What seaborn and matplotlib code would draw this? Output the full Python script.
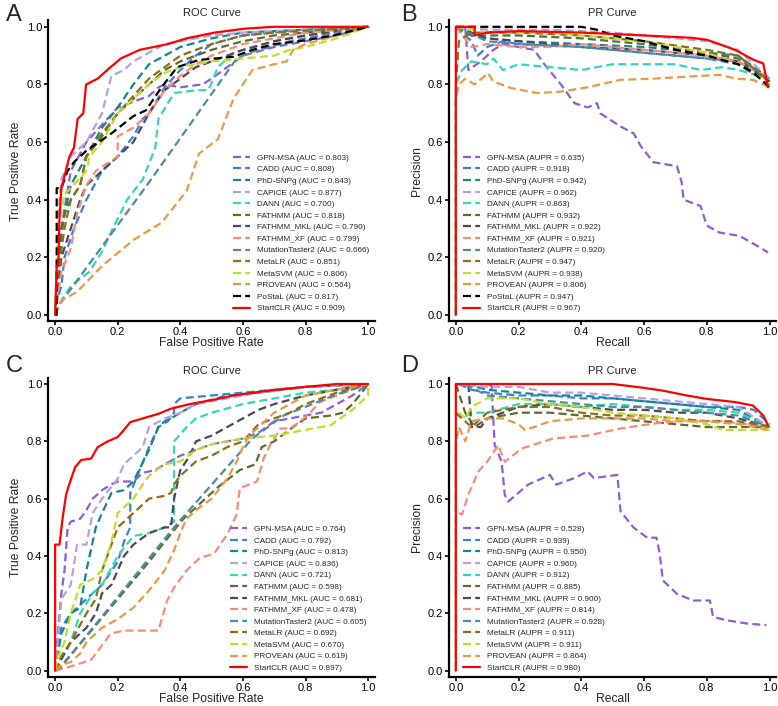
import numpy as np
import pandas as pd
import seaborn as sns
import matplotlib
matplotlib.use("Agg")
import matplotlib.pyplot as plt

# method names, colours and scores read from the legends
methods = ["GPN-MSA", "CADD", "PhD-SNPg", "CAPICE", "DANN", "FATHMM", "FATHMM_MKL",
           "FATHMM_XF", "MutationTaster2", "MetaLR", "MetaSVM", "PROVEAN", "PoStaL", "StartCLR"]
colors = ["#8C5FD6", "#3A7FE0", "#12888E", "#B9A0E0", "#2FD9B3", "#5A6E32", "#4D4858",
          "#F98C78", "#4D8CA3", "#8E6E1A", "#BFDF2A", "#EA9A45", "#000000", "#FF0000"]

auc_a = [0.803, 0.808, 0.843, 0.877, 0.700, 0.818, 0.790, 0.799, 0.666, 0.851, 0.806, 0.564, 0.817, 0.909]
aupr_b = [0.635, 0.918, 0.942, 0.962, 0.863, 0.932, 0.922, 0.921, 0.920, 0.947, 0.938, 0.806, 0.947, 0.967]
auc_c = [0.764, 0.792, 0.813, 0.836, 0.721, 0.598, 0.681, 0.478, 0.605, 0.692, 0.670, 0.619, None, 0.897]
aupr_d = [0.528, 0.939, 0.950, 0.960, 0.912, 0.885, 0.900, 0.814, 0.928, 0.911, 0.911, 0.864, None, 0.980]

# curves, (x list, y list)
roc_a = {
    "GPN-MSA": ([0, 0.01, 0.02, 0.05, 0.1, 0.15, 0.2, 0.25, 0.3, 0.33, 0.35, 0.4, 0.47, 0.5, 0.55, 0.6, 0.7, 0.8, 0.9, 1],
                [0, 0.1, 0.3, 0.5, 0.6, 0.66, 0.72, 0.74, 0.76, 0.79, 0.8, 0.79, 0.8, 0.82, 0.86, 0.9, 0.93, 0.95, 0.97, 1]),
    "CADD": ([0, 0.02, 0.03, 0.06, 0.1, 0.15, 0.2, 0.25, 0.28, 0.3, 0.35, 0.4, 0.45, 0.5, 0.6, 0.7, 0.8, 1],
             [0.03, 0.1, 0.2, 0.3, 0.4, 0.5, 0.55, 0.62, 0.68, 0.7, 0.79, 0.85, 0.9, 0.94, 0.97, 0.98, 0.99, 1]),
    "PhD-SNPg": ([0, 0.02, 0.05, 0.1, 0.15, 0.2, 0.25, 0.3, 0.35, 0.4, 0.5, 0.6, 0.8, 1],
                 [0, 0.3, 0.45, 0.55, 0.65, 0.72, 0.8, 0.87, 0.9, 0.93, 0.96, 0.98, 0.99, 1]),
    "CAPICE": ([0, 0.01, 0.02, 0.05, 0.1, 0.15, 0.18, 0.22, 0.25, 0.3, 0.35, 0.4, 0.5, 0.6, 0.8, 1],
               [0, 0.35, 0.47, 0.55, 0.6, 0.7, 0.83, 0.85, 0.88, 0.91, 0.94, 0.95, 0.97, 0.98, 0.99, 1]),
    "DANN": ([0, 0.02, 0.05, 0.11, 0.15, 0.18, 0.23, 0.28, 0.32, 0.33, 0.38, 0.45, 0.49, 0.52, 0.57, 0.7, 0.8, 1],
             [0, 0.05, 0.1, 0.15, 0.22, 0.29, 0.4, 0.47, 0.58, 0.68, 0.77, 0.78, 0.78, 0.86, 0.91, 0.95, 0.97, 1]),
    "FATHMM": ([0, 0.01, 0.03, 0.05, 0.08, 0.1, 0.15, 0.2, 0.25, 0.3, 0.35, 0.4, 0.5, 0.6, 0.7, 0.8, 1],
               [0, 0.2, 0.35, 0.4, 0.45, 0.55, 0.62, 0.7, 0.75, 0.8, 0.85, 0.88, 0.92, 0.95, 0.97, 0.98, 1]),
    "FATHMM_MKL": ([0, 0.02, 0.05, 0.08, 0.1, 0.15, 0.2, 0.25, 0.3, 0.35, 0.4, 0.45, 0.5, 0.6, 0.7, 0.8, 1],
                   [0, 0.2, 0.3, 0.4, 0.45, 0.5, 0.55, 0.6, 0.7, 0.78, 0.82, 0.86, 0.88, 0.92, 0.95, 0.97, 1]),
    "FATHMM_XF": ([0, 0.02, 0.05, 0.07, 0.1, 0.13, 0.2, 0.2, 0.25, 0.3, 0.35, 0.4, 0.45, 0.5, 0.6, 0.7, 0.8, 1],
                  [0, 0.15, 0.23, 0.35, 0.45, 0.5, 0.55, 0.62, 0.65, 0.7, 0.78, 0.83, 0.87, 0.9, 0.94, 0.96, 0.98, 1]),
    "MutationTaster2": ([0, 0.01, 0.3, 0.58, 0.62, 0.75, 0.9, 1],
                        [0, 0.03, 0.46, 0.89, 0.91, 0.95, 0.98, 1]),
    "MetaLR": ([0, 0.01, 0.03, 0.05, 0.08, 0.1, 0.15, 0.2, 0.25, 0.3, 0.35, 0.4, 0.5, 0.6, 0.7, 1],
               [0, 0.15, 0.3, 0.4, 0.45, 0.55, 0.63, 0.7, 0.76, 0.82, 0.86, 0.9, 0.94, 0.97, 0.98, 1]),
    "MetaSVM": ([0, 0.01, 0.03, 0.05, 0.1, 0.11, 0.15, 0.2, 0.25, 0.3, 0.35, 0.4, 0.5, 0.6, 0.7, 0.75, 0.8, 0.9, 1],
                [0, 0.3, 0.42, 0.44, 0.5, 0.55, 0.6, 0.7, 0.75, 0.8, 0.84, 0.86, 0.88, 0.89, 0.9, 0.92, 0.93, 0.96, 1]),
    "PROVEAN": ([0, 0.02, 0.07, 0.15, 0.25, 0.34, 0.42, 0.46, 0.52, 0.57, 0.63, 0.7, 0.74, 0.76, 0.8, 0.9, 1],
                [0, 0.05, 0.08, 0.17, 0.26, 0.32, 0.43, 0.56, 0.61, 0.75, 0.85, 0.87, 0.88, 0.92, 0.94, 0.97, 1]),
    "PoStaL": ([0, 0.005, 0.005, 0.02, 0.04, 0.06, 0.1, 0.18, 0.25, 0.29, 0.34, 0.39, 0.46, 0.57, 0.63, 0.7, 0.78, 0.89, 1],
               [0, 0, 0.44, 0.44, 0.5, 0.53, 0.57, 0.63, 0.69, 0.71, 0.79, 0.86, 0.885, 0.896, 0.92, 0.94, 0.95, 0.97, 1]),
    "StartCLR": ([0, 0.005, 0.01, 0.014, 0.02, 0.046, 0.06, 0.072, 0.09, 0.099, 0.136, 0.173, 0.21, 0.27, 0.36, 0.42, 0.51, 0.61, 0.7, 1],
                 [0, 0.17, 0.17, 0.34, 0.44, 0.55, 0.58, 0.68, 0.70, 0.80, 0.82, 0.856, 0.89, 0.92, 0.94, 0.96, 0.98, 0.994, 1, 1]),
}

pr_b = {
    "GPN-MSA": ([0.03, 0.04, 0.08, 0.12, 0.15, 0.2, 0.25, 0.28, 0.335, 0.378, 0.42, 0.45, 0.46, 0.525, 0.567, 0.59, 0.63, 0.705, 0.72, 0.726, 0.78, 0.8, 0.84, 0.905, 0.96, 0.995],
                [1.0, 0.85, 0.88, 0.92, 0.94, 0.93, 0.92, 0.873, 0.80, 0.735, 0.72, 0.735, 0.70, 0.654, 0.63, 0.585, 0.53, 0.516, 0.46, 0.40, 0.378, 0.31, 0.286, 0.274, 0.24, 0.217]),
    "CADD": ([0, 0.05, 0.07, 0.1, 0.15, 0.2, 0.4, 0.6, 0.8, 0.9, 1.0],
             [1, 0.95, 0.9, 0.93, 0.95, 0.94, 0.93, 0.91, 0.89, 0.88, 0.82]),
    "PhD-SNPg": ([0, 0.05, 0.1, 0.2, 0.4, 0.6, 0.8, 0.9, 1.0],
                 [1, 0.97, 0.96, 0.95, 0.94, 0.93, 0.91, 0.9, 0.82]),
    "CAPICE": ([0, 0.1, 0.3, 0.5, 0.6, 0.7, 0.8, 0.9, 1.0],
               [1, 0.99, 0.99, 0.98, 0.97, 0.96, 0.95, 0.92, 0.82]),
    "DANN": ([0, 0, 0.02, 0.05, 0.1, 0.12, 0.15, 0.2, 0.3, 0.4, 0.5, 0.6, 0.7, 0.78, 0.85, 0.9, 1.0],
             [0, 0.8, 0.85, 0.88, 0.87, 0.89, 0.85, 0.87, 0.86, 0.85, 0.87, 0.87, 0.87, 0.85, 0.86, 0.85, 0.82]),
    "FATHMM": ([0, 0.05, 0.2, 0.4, 0.6, 0.8, 0.9, 1.0],
               [1, 0.97, 0.97, 0.96, 0.94, 0.91, 0.89, 0.81]),
    "FATHMM_MKL": ([0, 0.1, 0.2, 0.4, 0.6, 0.8, 0.9, 1.0],
                   [1, 0.96, 0.95, 0.93, 0.92, 0.9, 0.88, 0.81]),
    "FATHMM_XF": ([0, 0.05, 0.1, 0.2, 0.3, 0.4, 0.5, 0.6, 0.7, 0.8, 0.9, 1.0],
                  [1, 0.93, 0.94, 0.93, 0.93, 0.94, 0.93, 0.92, 0.91, 0.9, 0.88, 0.82]),
    "MutationTaster2": ([0, 0.1, 0.2, 0.4, 0.5, 0.6, 0.7, 0.8, 0.9, 1.0],
                        [1, 0.95, 0.94, 0.93, 0.92, 0.91, 0.9, 0.89, 0.87, 0.8]),
    "MetaLR": ([0, 0.01, 0.02, 0.05, 0.2, 0.4, 0.6, 0.8, 0.9, 1.0],
               [0.8, 0.95, 0.96, 0.98, 0.98, 0.97, 0.95, 0.92, 0.9, 0.81]),
    "MetaSVM": ([0, 0.1, 0.3, 0.5, 0.6, 0.7, 0.8, 0.9, 0.95, 1.0],
                [1, 0.98, 0.98, 0.96, 0.95, 0.93, 0.91, 0.87, 0.84, 0.8]),
    "PROVEAN": ([0, 0, 0.01, 0.03, 0.06, 0.103, 0.12, 0.177, 0.26, 0.335, 0.42, 0.525, 0.63, 0.736, 0.84, 0.895, 0.947, 1.0],
                [0, 0.75, 0.8, 0.82, 0.8, 0.839, 0.81, 0.787, 0.77, 0.775, 0.79, 0.816, 0.82, 0.827, 0.833, 0.82, 0.816, 0.79]),
    "PoStaL": ([0, 0.4, 0.45, 0.5, 0.6, 0.7, 0.8, 0.9, 0.95, 1.0],
               [1, 1.0, 0.99, 0.97, 0.95, 0.92, 0.9, 0.87, 0.84, 0.79]),
    "StartCLR": ([0, 0, 0.06, 0.06, 0.1, 0.2, 0.4, 0.6, 0.75, 0.8, 0.84, 0.89, 0.95, 0.98, 0.995],
                 [0, 1, 1, 0.97, 0.98, 0.985, 0.98, 0.97, 0.962, 0.955, 0.94, 0.92, 0.885, 0.873, 0.79]),
}

roc_c = {
    "GPN-MSA": ([0, 0.01, 0.02, 0.03, 0.04, 0.05, 0.08, 0.1, 0.12, 0.15, 0.18, 0.2, 0.25, 0.28, 0.32, 0.35, 0.4, 0.45, 0.5, 0.55, 0.6, 0.65, 0.7, 0.75, 0.8, 0.85, 0.9, 0.95, 1],
                [0, 0.15, 0.27, 0.35, 0.5, 0.52, 0.53, 0.56, 0.6, 0.63, 0.65, 0.66, 0.66, 0.69, 0.7, 0.72, 0.75, 0.77, 0.79, 0.8, 0.81, 0.83, 0.87, 0.88, 0.89, 0.9, 0.93, 0.96, 1]),
    "CADD": ([0, 0.01, 0.02, 0.05, 0.1, 0.15, 0.2, 0.22, 0.24, 0.24, 0.27, 0.3, 0.33, 0.36, 0.38, 0.38, 0.4, 0.5, 0.6, 0.7, 0.8, 1],
             [0, 0.1, 0.15, 0.2, 0.25, 0.3, 0.38, 0.45, 0.5, 0.62, 0.7, 0.78, 0.85, 0.87, 0.9, 0.93, 0.95, 0.96, 0.97, 0.98, 0.99, 1]),
    "PhD-SNPg": ([0, 0.02, 0.05, 0.08, 0.1, 0.13, 0.15, 0.18, 0.22, 0.25, 0.3, 0.33, 0.35, 0.37, 0.4, 0.45, 0.55, 0.65, 0.8, 1],
                 [0, 0.13, 0.2, 0.22, 0.35, 0.5, 0.55, 0.62, 0.63, 0.66, 0.77, 0.85, 0.87, 0.88, 0.9, 0.93, 0.96, 0.97, 0.99, 1]),
    "CAPICE": ([0, 0.02, 0.05, 0.07, 0.1, 0.12, 0.15, 0.2, 0.22, 0.25, 0.28, 0.3, 0.35, 0.4, 0.45, 0.55, 0.65, 0.8, 1],
               [0, 0.25, 0.3, 0.44, 0.44, 0.55, 0.6, 0.67, 0.72, 0.75, 0.78, 0.85, 0.88, 0.9, 0.93, 0.95, 0.97, 0.99, 1]),
    "DANN": ([0, 0.02, 0.05, 0.08, 0.12, 0.15, 0.2, 0.25, 0.3, 0.35, 0.38, 0.38, 0.42, 0.45, 0.5, 0.6, 0.7, 0.8, 0.9, 1],
             [0, 0.05, 0.1, 0.2, 0.27, 0.3, 0.4, 0.47, 0.48, 0.5, 0.52, 0.8, 0.85, 0.88, 0.9, 0.93, 0.95, 0.97, 0.98, 1]),
    "FATHMM": ([0, 0.03, 0.1, 0.2, 0.3, 0.35, 0.41, 0.47, 0.52, 0.59, 0.64, 0.66, 0.7, 0.76, 0.8, 0.88, 0.92, 0.95, 0.98, 1],
               [0, 0.03, 0.12, 0.25, 0.38, 0.45, 0.53, 0.59, 0.64, 0.7, 0.72, 0.78, 0.8, 0.85, 0.88, 0.89, 0.9, 0.93, 0.97, 1]),
    "FATHMM_MKL": ([0, 0.05, 0.1, 0.13, 0.15, 0.18, 0.2, 0.22, 0.25, 0.3, 0.35, 0.37, 0.38, 0.4, 0.43, 0.45, 0.5, 0.55, 0.6, 0.65, 0.7, 0.8, 0.9, 1],
                   [0, 0.1, 0.15, 0.2, 0.27, 0.3, 0.35, 0.4, 0.44, 0.48, 0.5, 0.5, 0.6, 0.7, 0.75, 0.8, 0.82, 0.85, 0.88, 0.91, 0.93, 0.96, 0.98, 1]),
    "FATHMM_XF": ([0, 0.05, 0.115, 0.178, 0.22, 0.33, 0.358, 0.38, 0.42, 0.464, 0.507, 0.55, 0.58, 0.59, 0.645, 0.666, 0.687, 0.72, 0.75, 0.78, 0.815, 0.846, 0.9, 1],
                  [0, 0.015, 0.038, 0.13, 0.14, 0.14, 0.245, 0.29, 0.35, 0.395, 0.407, 0.476, 0.545, 0.637, 0.66, 0.74, 0.787, 0.845, 0.845, 0.867, 0.9, 0.937, 0.96, 1]),
    "MutationTaster2": ([0, 0.02, 0.38, 0.63, 0.73, 0.89, 1],
                        [0, 0.014, 0.5, 0.81, 0.89, 0.96, 1]),
    "MetaLR": ([0, 0.02, 0.05, 0.1, 0.13, 0.15, 0.2, 0.25, 0.3, 0.35, 0.37, 0.38, 0.4, 0.45, 0.5, 0.55, 0.6, 0.65, 0.7, 0.75, 0.8, 0.9, 1],
               [0, 0.05, 0.1, 0.2, 0.25, 0.35, 0.5, 0.55, 0.6, 0.61, 0.62, 0.65, 0.68, 0.73, 0.75, 0.78, 0.8, 0.86, 0.88, 0.9, 0.93, 0.97, 1]),
    "MetaSVM": ([0, 0.01, 0.03, 0.05, 0.08, 0.12, 0.15, 0.18, 0.2, 0.25, 0.28, 0.3, 0.35, 0.4, 0.45, 0.5, 0.55, 0.6, 0.7, 0.75, 0.8, 0.88, 0.95, 1, 1],
                [0, 0.05, 0.1, 0.2, 0.3, 0.32, 0.35, 0.45, 0.55, 0.6, 0.65, 0.68, 0.72, 0.73, 0.77, 0.79, 0.8, 0.81, 0.82, 0.83, 0.84, 0.856, 0.91, 0.96, 1]),
    "PROVEAN": ([0, 0.02, 0.05, 0.08, 0.1, 0.15, 0.2, 0.25, 0.3, 0.35, 0.38, 0.4, 0.42, 0.45, 0.5, 0.55, 0.58, 0.6, 0.62, 0.65, 0.7, 0.75, 0.8, 0.9, 1],
                [0, 0.02, 0.03, 0.06, 0.1, 0.15, 0.18, 0.22, 0.28, 0.35, 0.42, 0.48, 0.53, 0.56, 0.6, 0.67, 0.73, 0.78, 0.82, 0.85, 0.9, 0.93, 0.96, 0.98, 1]),
    "StartCLR": ([0, 0, 0.014, 0.024, 0.035, 0.045, 0.064, 0.083, 0.115, 0.136, 0.168, 0.2, 0.22, 0.24, 0.28, 0.33, 0.37, 0.43, 0.52, 0.57, 0.68, 0.78, 0.9, 1],
                 [0, 0.44, 0.44, 0.533, 0.614, 0.65, 0.71, 0.735, 0.74, 0.78, 0.80, 0.815, 0.84, 0.867, 0.88, 0.896, 0.914, 0.93, 0.948, 0.96, 0.977, 0.988, 1, 1]),
}

pr_d = {
    "GPN-MSA": ([0.1, 0.114, 0.124, 0.146, 0.156, 0.167, 0.23, 0.30, 0.32, 0.378, 0.42, 0.44, 0.515, 0.525, 0.567, 0.61, 0.64, 0.65, 0.66, 0.705, 0.757, 0.81, 0.82, 0.863, 0.926, 0.99],
                [1, 0.994, 0.787, 0.729, 0.614, 0.59, 0.649, 0.683, 0.649, 0.672, 0.695, 0.672, 0.683, 0.556, 0.499, 0.464, 0.464, 0.407, 0.315, 0.268, 0.245, 0.245, 0.188, 0.176, 0.165, 0.159]),
    "CADD": ([0.01, 0.05, 0.1, 0.2, 0.3, 0.4, 0.5, 0.6, 0.7, 0.8, 0.9, 0.95, 1.0],
             [1, 0.98, 0.97, 0.96, 0.96, 0.95, 0.95, 0.94, 0.93, 0.92, 0.92, 0.91, 0.86]),
    "PhD-SNPg": ([0.03, 0.1, 0.2, 0.3, 0.4, 0.5, 0.6, 0.7, 0.8, 0.9, 1.0],
                 [1, 0.98, 0.97, 0.96, 0.96, 0.95, 0.94, 0.93, 0.92, 0.91, 0.85]),
    "CAPICE": ([0, 0.1, 0.2, 0.25, 0.3, 0.4, 0.5, 0.6, 0.7, 0.8, 0.9, 1.0],
               [1, 0.99, 0.99, 0.98, 0.97, 0.97, 0.96, 0.95, 0.94, 0.93, 0.92, 0.85]),
    "DANN": ([0, 0.02, 0.05, 0.1, 0.2, 0.3, 0.4, 0.5, 0.6, 0.7, 0.8, 0.9, 1.0],
             [0.9, 0.88, 0.9, 0.9, 0.93, 0.93, 0.92, 0.93, 0.92, 0.91, 0.91, 0.9, 0.85]),
    "FATHMM": ([0, 0.03, 0.06, 0.1, 0.2, 0.3, 0.4, 0.5, 0.6, 0.7, 0.8, 0.9, 1.0],
               [1, 0.9, 0.85, 0.88, 0.9, 0.9, 0.89, 0.88, 0.87, 0.86, 0.85, 0.85, 0.85]),
    "FATHMM_MKL": ([0.04, 0.05, 0.08, 0.1, 0.15, 0.2, 0.3, 0.4, 0.5, 0.6, 0.7, 0.8, 0.9, 1.0],
                   [1, 0.85, 0.85, 0.88, 0.9, 0.92, 0.93, 0.92, 0.91, 0.91, 0.9, 0.9, 0.88, 0.85]),
    "FATHMM_XF": ([0.01, 0.02, 0.04, 0.072, 0.1, 0.135, 0.156, 0.21, 0.31, 0.42, 0.525, 0.63, 0.736, 0.85, 1.0],
                  [0.55, 0.545, 0.614, 0.695, 0.729, 0.787, 0.729, 0.775, 0.81, 0.82, 0.845, 0.862, 0.873, 0.87, 0.85]),
    "MutationTaster2": ([0.03, 0.1, 0.2, 0.3, 0.4, 0.5, 0.6, 0.7, 0.8, 0.9, 1.0],
                        [1, 0.96, 0.95, 0.94, 0.93, 0.92, 0.92, 0.91, 0.9, 0.89, 0.85]),
    "MetaLR": ([0, 0.05, 0.1, 0.2, 0.3, 0.4, 0.5, 0.6, 0.7, 0.8, 0.9, 1.0],
               [0.9, 0.85, 0.9, 0.92, 0.92, 0.9, 0.89, 0.89, 0.88, 0.87, 0.87, 0.85]),
    "MetaSVM": ([0.01, 0.03, 0.05, 0.1, 0.2, 0.3, 0.4, 0.5, 0.6, 0.7, 0.8, 0.85, 0.9, 1.0],
                [0.9, 0.88, 0.92, 0.95, 0.95, 0.93, 0.92, 0.9, 0.89, 0.88, 0.86, 0.84, 0.84, 0.84]),
    "PROVEAN": ([0, 0, 0.01, 0.03, 0.05, 0.1, 0.15, 0.2, 0.22, 0.25, 0.3, 0.4, 0.5, 0.6, 0.7, 0.8, 0.9, 1.0],
                [0, 0.8, 0.85, 0.8, 0.87, 0.88, 0.88, 0.86, 0.84, 0.85, 0.87, 0.88, 0.88, 0.88, 0.87, 0.87, 0.86, 0.84]),
    "StartCLR": ([0, 0, 0.5, 0.59, 0.66, 0.736, 0.8, 0.89, 0.947, 0.98, 0.995],
                 [0, 1, 1.0, 0.988, 0.977, 0.96, 0.948, 0.937, 0.925, 0.89, 0.856]),
}

sns.set_style("ticks")
plt.rcParams["font.family"] = ["Liberation Sans", "DejaVu Sans"]

fig = plt.figure(figsize=(7.78, 7.06), dpi=100)

panels = [
    # letter, curves, scores, score name, title, xlabel, ylabel, axes rect, legend anchor, letter pos
    ("A", roc_a, auc_a, "AUC", "ROC Curve", "False Positive Rate", "True Positive Rate",
     [0.062, 0.545, 0.420, 0.426], (0.566, 0.556), (0.008, 0.995)),
    ("B", pr_b, aupr_b, "AUPR", "PR Curve", "Recall", "Precision",
     [0.577, 0.545, 0.421, 0.426], (0.043, 0.556), (0.515, 0.995)),
    ("C", roc_c, auc_c, "AUC", "ROC Curve", "False Positive Rate", "True Positive Rate",
     [0.062, 0.041, 0.420, 0.424], (0.557, 0.507), (0.008, 0.497)),
    ("D", pr_d, aupr_d, "AUPR", "PR Curve", "Recall", "Precision",
     [0.577, 0.041, 0.421, 0.424], (0.043, 0.507), (0.515, 0.497)),
]

for letter, curves, scores, sname, title, xlab, ylab, rect, anchor, lpos in panels:
    ax = fig.add_axes(rect)
    for name, col, sc in zip(methods, colors, scores):
        if name not in curves:
            continue
        xs, ys = curves[name]
        label = f"{name} ({sname} = {sc:.3f})"
        if name == "StartCLR":
            ls = "-"
        else:
            ls = (0, (3.6, 1.9))
        sns.lineplot(x=xs, y=ys, ax=ax, color=col, linewidth=1.6, linestyle=ls,
                     sort=False, estimator=None, label=label)
    ax.set_xlim(-0.022, 1.022)
    ax.set_ylim(-0.022, 1.022)
    ax.set_xticks([0, 0.2, 0.4, 0.6, 0.8, 1.0])
    ax.set_yticks([0, 0.2, 0.4, 0.6, 0.8, 1.0])
    ax.set_xticklabels(["0.0", "0.2", "0.4", "0.6", "0.8", "1.0"])
    ax.set_yticklabels(["0.0", "0.2", "0.4", "0.6", "0.8", "1.0"])
    ax.tick_params(labelsize=8, length=3, width=1.2, pad=1.5, colors="black")
    ax.set_xlabel(xlab, fontsize=8.7, labelpad=0)
    ax.set_ylabel(ylab, fontsize=8.7, labelpad=3)
    ax.set_title(title, fontsize=8, pad=3)
    sns.despine(ax=ax)
    for s in ["left", "bottom"]:
        ax.spines[s].set_linewidth(1.6)
        ax.spines[s].set_color("black")
    ax.legend(loc="upper left", bbox_to_anchor=anchor, frameon=False, fontsize=5.9,
              handlelength=2.1, handletextpad=0.85, labelspacing=0.47, borderpad=0,
              borderaxespad=0)
    fig.text(lpos[0], lpos[1], letter, fontsize=17, va="top", ha="left")

fig.savefig("out.png", dpi=100)
